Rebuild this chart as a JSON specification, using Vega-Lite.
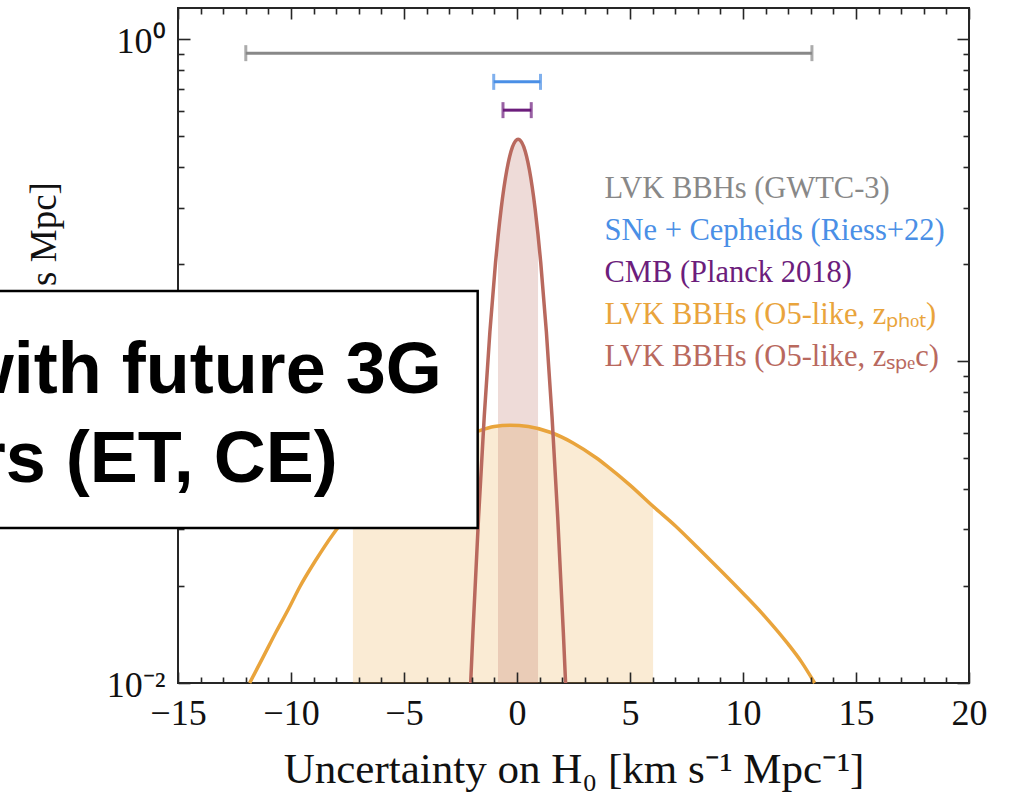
{
  "$schema": "https://vega.github.io/schema/vega-lite/v6.json",
  "autosize": {"type": "none"},
  "width": 791,
  "height": 675,
  "padding": {"left": 178, "top": 8, "right": 46, "bottom": 111},
  "background": "white",
  "datasets": {
    "curves": [
      {"series": "LVK BBHs (O5-like, zₚₕₒₜ)", "x": -11.83, "p": 0.0100},
      {"series": "LVK BBHs (O5-like, zₚₕₒₜ)", "x": -11.2, "p": 0.01216},
      {"series": "LVK BBHs (O5-like, zₚₕₒₜ)", "x": -10.65, "p": 0.01445},
      {"series": "LVK BBHs (O5-like, zₚₕₒₜ)", "x": -10.1, "p": 0.01704},
      {"series": "LVK BBHs (O5-like, zₚₕₒₜ)", "x": -9.62, "p": 0.01984},
      {"series": "LVK BBHs (O5-like, zₚₕₒₜ)", "x": -8.9, "p": 0.0241},
      {"series": "LVK BBHs (O5-like, zₚₕₒₜ)", "x": -8.14, "p": 0.0290},
      {"series": "LVK BBHs (O5-like, zₚₕₒₜ)", "x": -7.6, "p": 0.0325},
      {"series": "LVK BBHs (O5-like, zₚₕₒₜ)", "x": -7.26, "p": 0.0346},
      {"series": "LVK BBHs (O5-like, zₚₕₒₜ)", "x": -7.0, "p": 0.0361},
      {"series": "LVK BBHs (O5-like, zₚₕₒₜ)", "x": -6.0, "p": 0.0415},
      {"series": "LVK BBHs (O5-like, zₚₕₒₜ)", "x": -5.0, "p": 0.0466},
      {"series": "LVK BBHs (O5-like, zₚₕₒₜ)", "x": -4.0, "p": 0.0512},
      {"series": "LVK BBHs (O5-like, zₚₕₒₜ)", "x": -3.0, "p": 0.0555},
      {"series": "LVK BBHs (O5-like, zₚₕₒₜ)", "x": -2.3, "p": 0.0583},
      {"series": "LVK BBHs (O5-like, zₚₕₒₜ)", "x": -1.65, "p": 0.0608},
      {"series": "LVK BBHs (O5-like, zₚₕₒₜ)", "x": -1.0, "p": 0.0626},
      {"series": "LVK BBHs (O5-like, zₚₕₒₜ)", "x": -0.3, "p": 0.0632},
      {"series": "LVK BBHs (O5-like, zₚₕₒₜ)", "x": 0.5, "p": 0.0626},
      {"series": "LVK BBHs (O5-like, zₚₕₒₜ)", "x": 1.5, "p": 0.0600},
      {"series": "LVK BBHs (O5-like, zₚₕₒₜ)", "x": 2.5, "p": 0.0556},
      {"series": "LVK BBHs (O5-like, zₚₕₒₜ)", "x": 3.5, "p": 0.0501},
      {"series": "LVK BBHs (O5-like, zₚₕₒₜ)", "x": 4.0, "p": 0.0471},
      {"series": "LVK BBHs (O5-like, zₚₕₒₜ)", "x": 5.0, "p": 0.0412},
      {"series": "LVK BBHs (O5-like, zₚₕₒₜ)", "x": 6.02, "p": 0.0354},
      {"series": "LVK BBHs (O5-like, zₚₕₒₜ)", "x": 7.0, "p": 0.0308},
      {"series": "LVK BBHs (O5-like, zₚₕₒₜ)", "x": 8.0, "p": 0.0263},
      {"series": "LVK BBHs (O5-like, zₚₕₒₜ)", "x": 9.0, "p": 0.0224},
      {"series": "LVK BBHs (O5-like, zₚₕₒₜ)", "x": 10.0, "p": 0.0190},
      {"series": "LVK BBHs (O5-like, zₚₕₒₜ)", "x": 11.0, "p": 0.0160},
      {"series": "LVK BBHs (O5-like, zₚₕₒₜ)", "x": 12.0, "p": 0.0132},
      {"series": "LVK BBHs (O5-like, zₚₕₒₜ)", "x": 12.6, "p": 0.01159},
      {"series": "LVK BBHs (O5-like, zₚₕₒₜ)", "x": 13.17, "p": 0.0100},
      {"series": "LVK BBHs (O5-like, zₛₚₑc)", "x": -2.05, "p": 0.0100},
      {"series": "LVK BBHs (O5-like, zₛₚₑc)", "x": -1.95, "p": 0.01437},
      {"series": "LVK BBHs (O5-like, zₛₚₑc)", "x": -1.70, "p": 0.03285},
      {"series": "LVK BBHs (O5-like, zₛₚₑc)", "x": -1.45, "p": 0.0672},
      {"series": "LVK BBHs (O5-like, zₛₚₑc)", "x": -1.20, "p": 0.1233},
      {"series": "LVK BBHs (O5-like, zₛₚₑc)", "x": -0.95, "p": 0.2025},
      {"series": "LVK BBHs (O5-like, zₛₚₑc)", "x": -0.84, "p": 0.2431},
      {"series": "LVK BBHs (O5-like, zₛₚₑc)", "x": -0.70, "p": 0.2978},
      {"series": "LVK BBHs (O5-like, zₛₚₑc)", "x": -0.45, "p": 0.3922},
      {"series": "LVK BBHs (O5-like, zₛₚₑc)", "x": -0.20, "p": 0.4628},
      {"series": "LVK BBHs (O5-like, zₛₚₑc)", "x": 0.05, "p": 0.4890},
      {"series": "LVK BBHs (O5-like, zₛₚₑc)", "x": 0.30, "p": 0.4628},
      {"series": "LVK BBHs (O5-like, zₛₚₑc)", "x": 0.55, "p": 0.3922},
      {"series": "LVK BBHs (O5-like, zₛₚₑc)", "x": 0.80, "p": 0.2978},
      {"series": "LVK BBHs (O5-like, zₛₚₑc)", "x": 0.93, "p": 0.2470},
      {"series": "LVK BBHs (O5-like, zₛₚₑc)", "x": 1.05, "p": 0.2025},
      {"series": "LVK BBHs (O5-like, zₛₚₑc)", "x": 1.30, "p": 0.1233},
      {"series": "LVK BBHs (O5-like, zₛₚₑc)", "x": 1.55, "p": 0.0672},
      {"series": "LVK BBHs (O5-like, zₛₚₑc)", "x": 1.80, "p": 0.03285},
      {"series": "LVK BBHs (O5-like, zₛₚₑc)", "x": 2.05, "p": 0.01437},
      {"series": "LVK BBHs (O5-like, zₛₚₑc)", "x": 2.15, "p": 0.0100}
    ],
    "bars": [
      {"name": "LVK BBHs (GWTC-3)", "lo": -12.0, "hi": 13.05, "y": 0.905},
      {"name": "SNe + Cepheids (Riess+22)", "lo": -1.03, "hi": 1.04, "y": 0.737},
      {"name": "CMB (Planck 2018)", "lo": -0.62, "hi": 0.63, "y": 0.602}
    ],
    "callout": [
      {"line1": "Cosmology with future 3G", "line2": "detectors (ET, CE)"}
    ]
  },
  "layer": [
    {
      "data": {"name": "curves"},
      "transform": [{"filter": "datum.series == 'LVK BBHs (O5-like, zₚₕₒₜ)' && datum.x >= -7.26 && datum.x <= 6.02"}],
      "mark": {"type": "area", "interpolate": "monotone", "color": "#e9a43c", "opacity": 0.22},
      "encoding": {
        "x": {
          "field": "x", "type": "quantitative",
          "scale": {"domain": [-15, 20], "nice": false, "zero": false},
          "axis": {
            "orient": "bottom",
            "values": [-15,-14,-13,-12,-11,-10,-9,-8,-7,-6,-5,-4,-3,-2,-1,0,1,2,3,4,5,6,7,8,9,10,11,12,13,14,15,16,17,18,19,20],
            "labelExpr": "datum.value % 5 == 0 ? datum.label : ''",
            "tickSize": {"condition": {"test": "datum.value % 5 == 0", "value": -11}, "value": -6},
            "labelFontSize": 36,
            "labelPadding": 24,
            "labelOverlap": false,
            "labelFlush": false,
            "labelBound": false,
            "title": "Uncertainty on H₀  [km s⁻¹ Mpc⁻¹]",
            "titleFontSize": 43,
            "titleBaseline": "alphabetic",
            "titleY": 99,
            "zindex": 1
          }
        },
        "y": {
          "field": "p", "type": "quantitative",
          "scale": {"type": "log", "domain": [0.01, 1.25], "nice": false},
          "axis": {
            "orient": "left",
            "values": [0.01,0.02,0.03,0.04,0.05,0.06,0.07,0.08,0.09,0.1,0.2,0.3,0.4,0.5,0.6,0.7,0.8,0.9,1],
            "labelExpr": "datum.value == 1 ? '10⁰' : datum.value == 0.1 ? '10⁻¹' : datum.value == 0.01 ? '10⁻²' : ''",
            "tickSize": {"condition": {"test": "datum.value == 1 || datum.value == 0.1 || datum.value == 0.01", "value": -12}, "value": -6},
            "labelFontSize": 36,
            "labelPadding": 25,
            "labelBaseline": "middle",
            "labelOffset": 2,
            "labelOverlap": false,
            "labelFlush": false,
            "labelBound": false,
            "title": "p(H₀)  [km⁻¹ s Mpc]",
            "titleFontSize": 37,
            "titleBaseline": "alphabetic",
            "titleX": -123,
            "titleY": 318,
            "zindex": 0
          }
        },
        "y2": {"datum": 0.01}
      }
    },
    {
      "data": {"name": "curves"},
      "transform": [{"filter": "datum.series == 'LVK BBHs (O5-like, zₛₚₑc)' && datum.x >= -0.84 && datum.x <= 0.93"}],
      "mark": {"type": "area", "interpolate": "monotone", "color": "#b9695e", "opacity": 0.24},
      "encoding": {
        "x": {"field": "x", "type": "quantitative", "axis": null},
        "y": {"field": "p", "type": "quantitative", "scale": {"type": "log"}, "axis": null},
        "y2": {"datum": 0.01}
      }
    },
    {
      "data": {"name": "curves"},
      "mark": {"type": "line", "interpolate": "monotone", "strokeWidth": 3.5},
      "encoding": {
        "x": {"field": "x", "type": "quantitative", "axis": null},
        "y": {"field": "p", "type": "quantitative", "scale": {"type": "log"}, "axis": null},
        "color": {
          "field": "series", "type": "nominal",
          "scale": {
            "domain": ["LVK BBHs (GWTC-3)", "SNe + Cepheids (Riess+22)", "CMB (Planck 2018)", "LVK BBHs (O5-like, zₚₕₒₜ)", "LVK BBHs (O5-like, zₛₚₑc)"],
            "range": ["#888888", "#4a8fe6", "#6c1d7c", "#e9a43c", "#b9695e"]
          },
          "legend": {
            "orient": "none",
            "legendX": 396,
            "legendY": 166,
            "title": null,
            "padding": 0,
            "symbolOpacity": 0,
            "symbolStrokeWidth": 0,
            "symbolSize": 0,
            "labelOffset": 0,
            "labelFont": "Liberation Serif",
            "labelFontSize": 30.5,
            "labelLimit": 600,
            "rowPadding": 11,
            "encode": {
              "labels": {
                "update": {
                  "fill": {"scale": "color", "field": "value"},
                  "font": {"value": "Liberation Serif"},
                  "fontSize": {"value": 30.5}
                }
              }
            }
          }
        }
      }
    },
    {
      "data": {"name": "bars"},
      "mark": {"type": "rule", "strokeWidth": 3},
      "encoding": {
        "x": {
          "field": "lo", "type": "quantitative",
          "axis": {
            "orient": "top",
            "values": [-15,-14,-13,-12,-11,-10,-9,-8,-7,-6,-5,-4,-3,-2,-1,0,1,2,3,4,5,6,7,8,9,10,11,12,13,14,15,16,17,18,19,20],
            "labels": false,
            "title": null,
            "tickSize": {"condition": {"test": "datum.value % 5 == 0", "value": -11}, "value": -6}
          }
        },
        "x2": {"field": "hi"},
        "y": {
          "field": "y", "type": "quantitative", "scale": {"type": "log"},
          "axis": {
            "orient": "right",
            "values": [0.01,0.02,0.03,0.04,0.05,0.06,0.07,0.08,0.09,0.1,0.2,0.3,0.4,0.5,0.6,0.7,0.8,0.9,1],
            "labels": false,
            "title": null,
            "tickSize": {"condition": {"test": "datum.value == 1 || datum.value == 0.1 || datum.value == 0.01", "value": -12}, "value": -6}
          }
        },
        "color": {"field": "name", "type": "nominal"}
      }
    },
    {
      "data": {"name": "bars"},
      "mark": {"type": "tick", "orient": "vertical", "size": 16, "thickness": 3},
      "encoding": {
        "x": {"field": "lo", "type": "quantitative", "axis": null},
        "y": {"field": "y", "type": "quantitative", "scale": {"type": "log"}, "axis": null},
        "color": {"field": "name", "type": "nominal"}
      }
    },
    {
      "data": {"name": "bars"},
      "mark": {"type": "tick", "orient": "vertical", "size": 16, "thickness": 3},
      "encoding": {
        "x": {"field": "hi", "type": "quantitative", "axis": null},
        "y": {"field": "y", "type": "quantitative", "scale": {"type": "log"}, "axis": null},
        "color": {"field": "name", "type": "nominal"}
      }
    },
    {
      "data": {"name": "callout"},
      "mark": {"type": "rect", "fill": "white", "stroke": "black", "strokeWidth": 2.5},
      "encoding": {
        "x": {"datum": -24, "type": "quantitative", "axis": null},
        "x2": {"datum": -1.74},
        "y": {"datum": 0.165, "type": "quantitative", "scale": {"type": "log"}, "axis": null},
        "y2": {"datum": 0.0303}
      }
    },
    {
      "data": {"name": "callout"},
      "mark": {"type": "text", "font": "Liberation Sans", "fontWeight": "bold", "fontSize": 72, "align": "right", "baseline": "alphabetic", "color": "black"},
      "encoding": {
        "x": {"datum": -3.33, "type": "quantitative", "axis": null},
        "y": {"datum": 0.0796, "type": "quantitative", "scale": {"type": "log"}, "axis": null},
        "text": {"field": "line1"}
      }
    },
    {
      "data": {"name": "callout"},
      "mark": {"type": "text", "font": "Liberation Sans", "fontWeight": "bold", "fontSize": 72, "align": "right", "baseline": "alphabetic", "color": "black"},
      "encoding": {
        "x": {"datum": -7.93, "type": "quantitative", "axis": null},
        "y": {"datum": 0.0421, "type": "quantitative", "scale": {"type": "log"}, "axis": null},
        "text": {"field": "line2"}
      }
    }
  ],
  "resolve": {"axis": {"x": "independent", "y": "independent"}},
  "config": {
    "view": {"stroke": "#262626", "strokeWidth": 2},
    "axis": {
      "domain": false,
      "grid": false,
      "tickColor": "#262626",
      "tickWidth": 1.6,
      "labelFont": "Liberation Serif",
      "titleFont": "Liberation Serif",
      "labelColor": "#111111",
      "titleColor": "#111111",
      "titleFontWeight": "normal"
    }
  }
}
